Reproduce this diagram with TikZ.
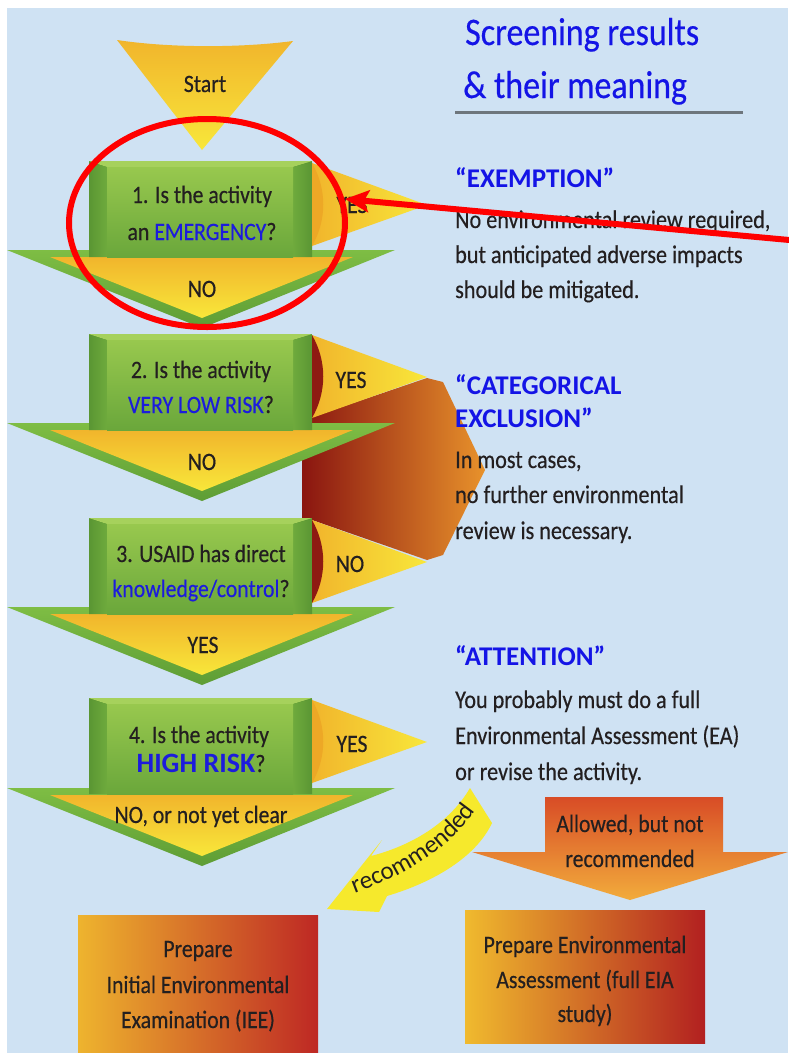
\documentclass[tikz,border=0pt]{standalone}
\usepackage{fontspec}
\setmainfont{Carlito}[FakeStretch=0.87, FakeBold=0.4]
\newfontfamily\widefont{Carlito}
\usetikzlibrary{arrows.meta,decorations.text}
\definecolor{bgblue}{HTML}{CFE2F3}
\definecolor{ink}{HTML}{231F20}
\definecolor{tblue}{HTML}{1C1CDC}
\definecolor{hblue}{HTML}{1414E6}
\definecolor{lineg}{HTML}{6E767C}
\definecolor{gTop}{HTML}{98C84E}
\definecolor{gBot}{HTML}{6AA73B}
\definecolor{gSide}{HTML}{5A9633}
\definecolor{gRim}{HTML}{A6D15C}
\definecolor{aGreenT}{HTML}{7EBD44}
\definecolor{aGreenB}{HTML}{5E9D35}
\definecolor{yTop}{HTML}{F1B52C}
\definecolor{yBot}{HTML}{F8E73A}
\definecolor{cresO}{HTML}{EDA826}
\definecolor{cresR}{HTML}{8E1A12}
\definecolor{rDark}{HTML}{8A1510}
\definecolor{rMid}{HTML}{C93A27}
\definecolor{rOr}{HTML}{E8922B}
\definecolor{recY}{HTML}{F6E92C}
\newcommand{\myfs}[1]{\fontsize{#1}{#1}\selectfont}
\newcommand{\qbox}[1]{%
  \fill[gSide] (89,#1) rectangle (312,#1+96);
  \fill[gRim] (89,#1) -- (312,#1) -- (293,#1+6) -- (107,#1+6) -- cycle;
  \shade[left color=gSide, right color=gBot!90!gTop] (89,#1+1) -- (107,#1+6) -- (107,#1+96) -- (89,#1+96) -- cycle;
  \shade[left color=gBot!90!gTop, right color=gSide] (312,#1+1) -- (293,#1+6) -- (293,#1+96) -- (312,#1+96) -- cycle;
  \shade[top color=gTop, bottom color=gBot] (107,#1+6) rectangle (293,#1+96);
}
\newcommand{\qarrow}[1]{%
  \shade[top color=aGreenT, bottom color=aGreenB] (7,#1) -- (395,#1) -- (202,#1+78) -- cycle;
  \shade[top color=yTop, bottom color=yBot] (50,#1+7) -- (353,#1+7) -- (202,#1+68) -- cycle;
}
\newcommand{\qside}[2]{%
  \shade[left color=yTop, right color=yBot] (312,#1) -- (427,#1+42) -- (312,#1+83) -- cycle;
  \fill[#2] (312,#1) .. controls (327,#1+26) and (327,#1+57) .. (312,#1+83) -- cycle;
}
\tikzset{
  lbl/.style={inner sep=0pt, anchor=base, text=ink, font=\myfs{25}},
  body/.style={inner sep=0pt, anchor=base west, text=ink, font=\myfs{25.5}},
  hdr/.style={inner sep=0pt, anchor=base west, text=hblue, font=\widefont\bfseries\myfs{27}},
  title/.style={inner sep=0pt, anchor=base west, text=hblue, font=\myfs{39}},
}
\begin{document}
\begin{tikzpicture}[x=1pt,y=-1pt]
\useasboundingbox (0,0) rectangle (788,1053);
\fill[white] (0,0) rectangle (788,1053);
\fill[bgblue] (7,8) rectangle (788,1053);

% red/orange categorical exclusion shape
\shade[left color=rDark, middle color=rMid, right color=rOr]
  (302,420) -- (312,417) -- (427,378) -- (443,382) -- (485,470) -- (443,555) -- (427,560) -- (312,520) -- (302,520) -- cycle;

% start triangle
\shade[top color=yTop, bottom color=yBot]
  (117,40) .. controls (170,48) and (240,48) .. (293,41) -- (202,150) -- cycle;

% question 1
\qarrow{250}
\qbox{161}
\qside{163}{cresO}
% question 2
\qarrow{423}
\qbox{334}
\qside{335}{cresR}
% question 3
\qarrow{607}
\qbox{518}
\qside{520}{cresR}
% question 4
\qarrow{788}
\qbox{698}
\qside{700}{cresO}

% flow texts
\node[lbl] (start) at (205,92) {Start};
\node[lbl] (q1a) at (202,203) {1. Is the activity};
\node[lbl] (q1b) at (202,240) {an \textcolor{tblue}{EMERGENCY}?};
\node[lbl] (no1) at (202,297) {NO};
\node[lbl] (yes1) at (352,213) {YES};
\node[lbl] (q2a) at (201,378) {2. Is the activity};
\node[lbl] (q2b) at (201,413) {\textcolor{tblue}{VERY LOW RISK}?};
\node[lbl] (no2) at (202,470) {NO};
\node[lbl] (yes2) at (351,388) {YES};
\node[lbl] (q3a) at (201,562) {3. USAID has direct};
\node[lbl] (q3b) at (201,597) {\textcolor{tblue}{knowledge/control}?};
\node[lbl] (yes3) at (203,653) {YES};
\node[lbl] (no3) at (350,572) {NO};
\node[lbl] (q4a) at (199,743) {4. Is the activity};
\node[lbl] (q4b) at (201,772) {{\widefont\bfseries\myfs{28}\textcolor{tblue}{HIGH RISK}}?};
\node[lbl] (no4) at (201,823) {NO, or not yet clear};
\node[lbl] (yes4) at (352,752) {YES};

% right column
\node[title] (t1) at (465,45) {Screening results};
\node[title] (t2) at (463,98) {\& their meaning};
\draw[lineg, line width=3pt] (455,112) -- (743,112);

\node[hdr] (exh) at (455,187) {“EXEMPTION”};
\node[body] (ex1) at (455,228) {No environmental review required,};
\node[body] (ex2) at (455,263) {but anticipated adverse impacts};
\node[body] (ex3) at (455,298) {should be mitigated.};

\node[hdr] (ceh1) at (455,394) {“CATEGORICAL};
\node[hdr] (ceh2) at (455,427) {EXCLUSION”};
\node[body] (ce1) at (455,468) {In most cases,};
\node[body] (ce2) at (455,503) {no further environmental};
\node[body] (ce3) at (455,539) {review is necessary.};

\node[hdr] (ath) at (455,665) {“ATTENTION”};
\node[body] (at1) at (455,708) {You probably must do a full};
\node[body] (at2) at (455,744) {Environmental Assessment (EA)};
\node[body] (at3) at (455,780) {or revise the activity.};

% allowed but not recommended arrow
\shade[top color={rgb,255:red,216;green,76;blue,38}, bottom color={rgb,255:red,242;green,172;blue,60}]
  (545,797) -- (723,797) -- (723,852) -- (788,852) -- (630,900) -- (472,852) -- (545,852) -- cycle;
\node[lbl] (al1) at (630,832) {Allowed, but not};
\node[lbl] (al2) at (630,867) {recommended};

% EA box
\shade[left color={rgb,255:red,240;green,186;blue,46}, middle color={rgb,255:red,213;green,80;blue,40}, right color={rgb,255:red,178;green,32;blue,32}]
  (465,910) rectangle (705,1043);
\node[lbl] (ea1) at (585,953) {Prepare Environmental};
\node[lbl] (ea2) at (585,988) {Assessment (full EIA};
\node[lbl] (ea3) at (585,1022) {study)};

% IEE box
\shade[left color={rgb,255:red,238;green,180;blue,46}, middle color={rgb,255:red,214;green,86;blue,42}, right color={rgb,255:red,190;green,40;blue,36}]
  (78,915) rectangle (318,1053);
\node[lbl] (iee1) at (198,957) {Prepare};
\node[lbl] (iee2) at (198,993) {Initial Environmental};
\node[lbl] (iee3) at (198,1028) {Examination (IEE)};

% recommended curved arrow
\fill[recY] (470,788) .. controls (449,824) and (410,846) .. (371,856)
  -- (382,840) -- (327,909) -- (379,912) -- (387,896)
  .. controls (434,882) and (476,857) .. (492,823) -- cycle;
\path[decorate, decoration={text along path, text align=center,
  text={|\widefont\myfs{25}\color{ink}|recommended}}]
  (354,894) .. controls (402,876) and (448,851) .. (476,810);

% red annotation
\draw[red, line width=6pt] (207,223) ellipse [x radius=138, y radius=104];
\coordinate (redStart) at (800,241);
\coordinate (redTip) at (345,199);
\draw[red, line width=6pt, -{Stealth[length=24pt,width=22pt,inset=5pt]}] (redStart) -- (redTip);
\end{tikzpicture}
\end{document}
